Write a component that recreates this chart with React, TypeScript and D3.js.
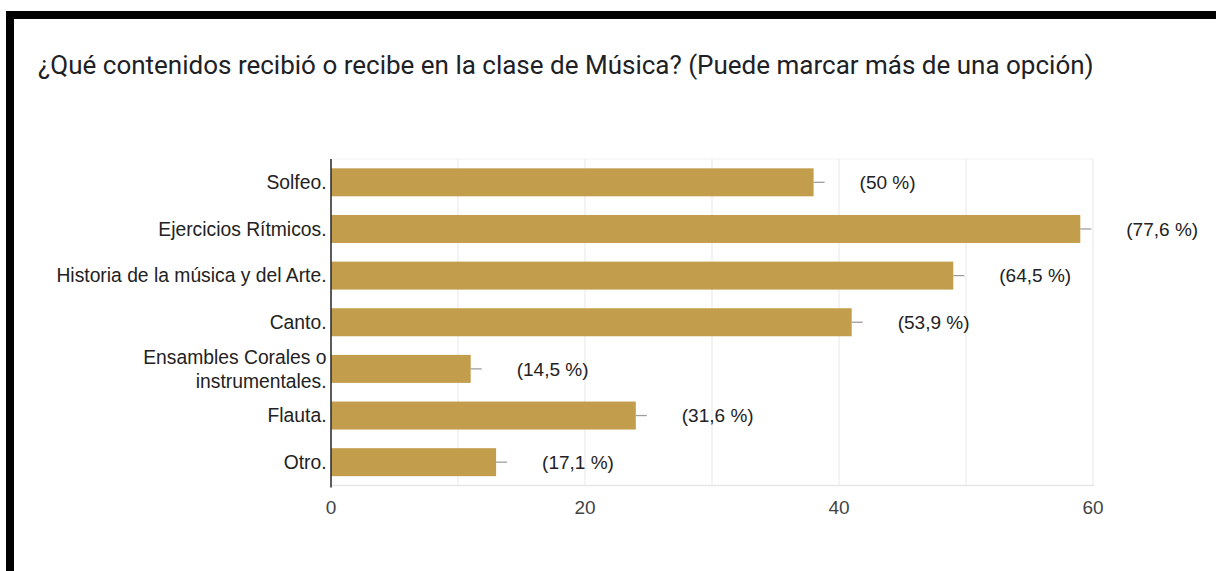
import React from "react";
import * as d3 from "d3";

const title = "¿Qué contenidos recibió o recibe en la clase de Música? (Puede marcar más de una opción)";
const categories = [
  ["Solfeo."],
  ["Ejercicios Rítmicos."],
  ["Historia de la música y del Arte."],
  ["Canto."],
  ["Ensambles Corales o", "instrumentales."],
  ["Flauta."],
  ["Otro."],
];
const counts = [38, 59, 49, 41, 11, 24, 13];
const percentLabels = ["(50 %)", "(77,6 %)", "(64,5 %)", "(53,9 %)", "(14,5 %)", "(31,6 %)", "(17,1 %)"];
const xTicks = [0, 20, 40, 60];
const gridTicks = [10, 20, 30, 40, 50, 60];

const W = 1216;
const H = 571;
const left = 331;
const right = 1093;
const top = 159;
const bottom = 485.5;
const BAR = "#c29d4b";
const FONT = "Arial, 'Liberation Sans', sans-serif";

export default function App() {
  const x = d3.scaleLinear().domain([0, 60]).range([left, right]);
  const y = d3
    .scaleBand<number>()
    .domain(d3.range(categories.length))
    .range([top, bottom])
    .paddingInner(0.4)
    .paddingOuter(0.2);
  const bw = y.bandwidth();

  return (
    <div style={{ position: "absolute", left: 0, top: 0 }}>
      <svg width={W} height={H} style={{ display: "block", background: "#fff" }}>
        <rect x={0} y={0} width={W} height={H} fill="#fff" />
        {/* black frame */}
        <rect x={6} y={11} width={W - 6} height={8} fill="#000" />
        <rect x={6} y={11} width={8} height={H - 11} fill="#000" />

        <text x={38} y={74} fontFamily="Roboto, 'Noto Sans', sans-serif" fontSize={26} fill="#202124">
          {title}
        </text>

        {/* grid */}
        {gridTicks.map((t) => (
          <line key={t} x1={x(t)} x2={x(t)} y1={top} y2={bottom} stroke="#ebebeb" strokeWidth={1.2} />
        ))}
        <line x1={left} x2={right} y1={top} y2={top} stroke="#f0f0f0" strokeWidth={1} />
        <line x1={left} x2={right + 1} y1={bottom} y2={bottom} stroke="#e6e6e6" strokeWidth={1.5} />

        {/* bars */}
        {counts.map((v, i) => {
          const yy = y(i)!;
          const cy = yy + bw / 2;
          const xe = x(v);
          return (
            <g key={i}>
              <rect x={x(0)} y={yy} width={xe - x(0)} height={bw} fill={BAR} />
              <line x1={xe} x2={xe + 11} y1={cy} y2={cy} stroke="#9e9e9e" strokeWidth={1.3} />
              <text x={xe + 46} y={cy + 6.7} fontFamily={FONT} fontSize={19} fill="#222">
                {percentLabels[i]}
              </text>
            </g>
          );
        })}

        {/* category labels */}
        {categories.map((lines, i) => {
          const cy = y(i)! + bw / 2;
          const lh = 24;
          const start = cy - ((lines.length - 1) * lh) / 2;
          return (
            <text key={i} textAnchor="end" fontFamily={FONT} fontSize={19.3} fill="#222">
              {lines.map((l, j) => (
                <tspan key={j} x={326.5} y={start + j * lh + 6.7}>
                  {l}
                </tspan>
              ))}
            </text>
          );
        })}

        {/* axis line */}
        <line x1={left} x2={left} y1={top} y2={bottom + 2} stroke="#333" strokeWidth={1.6} />

        {/* x tick labels */}
        {xTicks.map((t) => (
          <text key={t} x={x(t)} y={514} textAnchor="middle" fontFamily={FONT} fontSize={19} fill="#444">
            {t}
          </text>
        ))}
      </svg>
    </div>
  );
}
